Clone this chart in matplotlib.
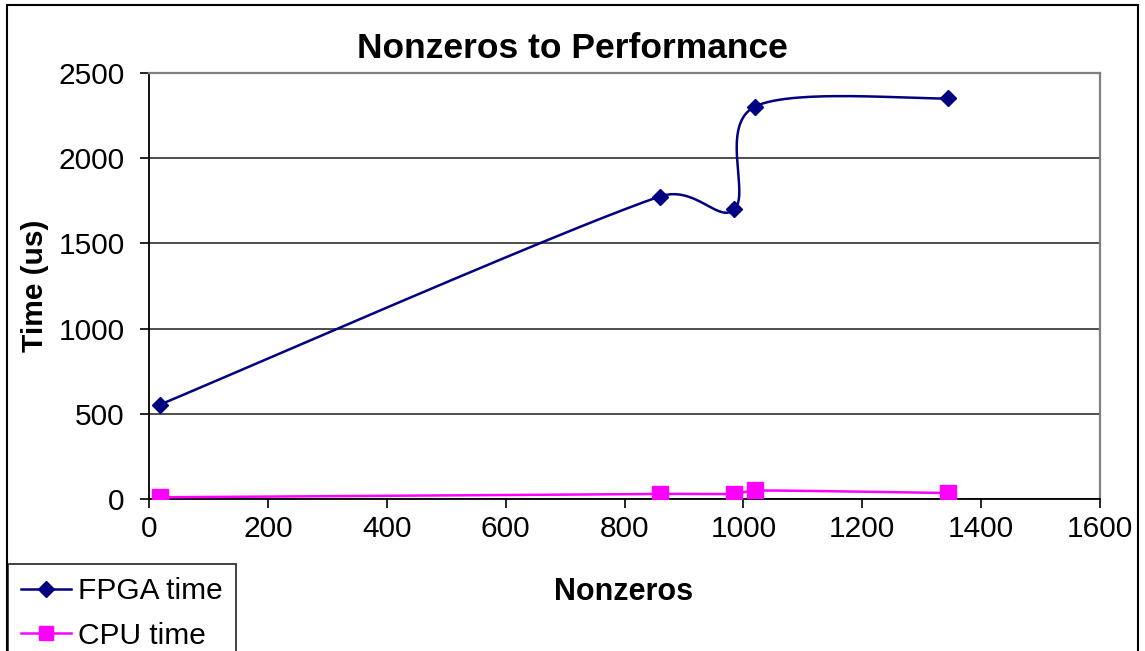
import numpy as np
import matplotlib
matplotlib.use("Agg")
import matplotlib.pyplot as plt
from matplotlib.patches import Rectangle

plt.rcParams['font.family'] = ['Liberation Sans', 'DejaVu Sans']

# data
nonzeros = [18, 859, 985, 1019, 1345]
fpga_time = [553, 1775, 1700, 2302, 2351]
cpu_time = [10, 30, 30, 50, 35]

W, H = 1145, 651
fig = plt.figure(figsize=(W / 100, H / 100), dpi=100)
# plot area in pixels: left 149, right 1100, top 73, bottom 499
ax = fig.add_axes([149 / W, 1 - 499 / H, (1100 - 149) / W, (499 - 73) / H])

XMAX, YMAX = 1600, 2500


def smooth(xs, ys, n=60):
    # Excel-style smoothed line: bezier with catmull-rom control points,
    # worked out in screen proportions, arms capped to half the segment
    sx = (1100 - 149) / XMAX
    sy = (499 - 73) / YMAX
    p = np.column_stack([np.array(xs) * sx, np.array(ys) * sy])
    pts = np.vstack([p[0], p, p[-1]])
    t = np.linspace(0, 1, n)[:, None]
    out = []
    for i in range(1, len(pts) - 2):
        p0, p1 = pts[i], pts[i + 1]
        seglen = np.hypot(*(p1 - p0))
        a1 = (pts[i + 1] - pts[i - 1]) / 6
        a2 = (pts[i + 2] - pts[i]) / 6
        for a in (a1, a2):
            l = np.hypot(*a)
            if l > seglen / 2:
                a *= (seglen / 2) / l
        c1 = p0 + a1
        c2 = p1 - a2
        seg = ((1 - t) ** 3) * p0 + 3 * ((1 - t) ** 2) * t * c1 + 3 * (1 - t) * t ** 2 * c2 + t ** 3 * p1
        out.append(seg)
    out = np.vstack(out)
    return out[:, 0] / sx, out[:, 1] / sy


fx, fy = smooth(nonzeros, fpga_time)
cx, cy = smooth(nonzeros, cpu_time)

navy = '#000080'
pink = '#FF00FF'
ax.plot(fx, fy, color=navy, lw=1.8, zorder=3)
ax.plot(nonzeros, fpga_time, ls='none', marker='D', ms=8.5, color=navy, zorder=4)
ax.plot(cx, cy, color=pink, lw=1.8, zorder=3)
ax.plot(nonzeros, cpu_time, ls='none', marker='s', ms=11, color=pink, zorder=4)

# legend handles
ax.plot([], [], color=navy, lw=1.8, marker='D', ms=8.5, label='FPGA time')
ax.plot([], [], color=pink, lw=1.8, marker='s', ms=10, label='CPU time')

ax.set_xlim(0, XMAX)
ax.set_ylim(0, YMAX)
ax.set_xticks(np.arange(0, 1601, 200))
ax.set_yticks(np.arange(0, 2501, 500))
ax.yaxis.grid(True, color='#404040', lw=1.3)
ax.set_axisbelow(True)
ax.tick_params(labelsize=21.5, length=6.5, width=1.2, color='black')
ax.tick_params(axis='x', pad=5)
ax.tick_params(axis='y', pad=11)

for s in ['top', 'right']:
    ax.spines[s].set_color('#808080')
    ax.spines[s].set_linewidth(1.6)
for s in ['left', 'bottom']:
    ax.spines[s].set_color('black')
    ax.spines[s].set_linewidth(1.3)

fig.text(572 / W, 1 - 48 / H, 'Nonzeros to Performance', ha='center', va='center',
         fontsize=25.5, fontweight='bold')
fig.text(624 / W, 1 - 592 / H, 'Nonzeros', ha='center', va='center',
         fontsize=22, fontweight='bold')
fig.text(35 / W, 1 - 286 / H, 'Time (us)', ha='center', va='center',
         fontsize=21.5, fontweight='bold', rotation=90)

leg = fig.legend(loc='upper left', bbox_to_anchor=(8 / W, 1 - 564 / H), fontsize=21.5,
                 frameon=True, fancybox=False, edgecolor='black', borderpad=0.45,
                 handlelength=1.65, handletextpad=0.25, labelspacing=0.55, borderaxespad=0)
leg.get_frame().set_linewidth(1.3)

# outer chart border (bottom runs off the picture)
fig.add_artist(Rectangle((7 / W, -0.05), (1138 - 7) / W, 1.05 - 5 / H,
                         transform=fig.transFigure, fill=False, edgecolor='black', lw=1.5))

fig.savefig('out.png', dpi=100)
